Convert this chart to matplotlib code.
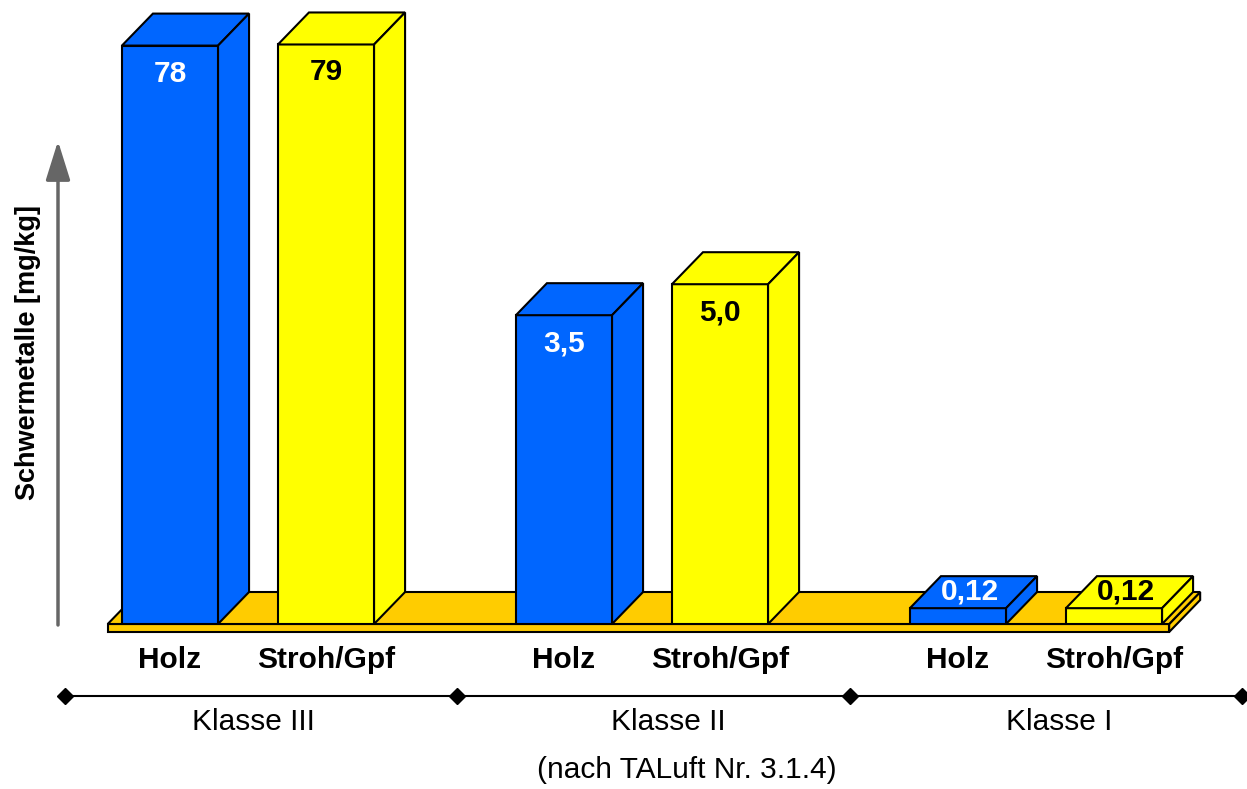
import numpy as np
import matplotlib
matplotlib.use("Agg")
import matplotlib.pyplot as plt
from matplotlib.patches import Polygon
from matplotlib.ticker import NullLocator
from matplotlib.transforms import IdentityTransform

plt.rcParams["font.family"] = ["Liberation Sans", "DejaVu Sans"]

# ---- data -------------------------------------------------------------
klassen = ["Klasse III", "Klasse II", "Klasse I"]
brennstoffe = ["Holz", "Stroh/Gpf"]
holz = [78, 3.5, 0.12]
stroh = [79, 5.0, 0.12]
y_label = "Schwermetalle [mg/kg]"
quelle = "(nach TALuft Nr. 3.1.4)"

# ---- styling ----------------------------------------------------------
BLUE = "#0066FF"
YELLOW = "#FFFF00"
FLOOR = "#FFCC00"
ARROW = "#666666"
DX, DY = 31, 32          # depth of the pseudo-3D faces (pixels)
FLOOR_T = 8              # thickness of the floor slab (pixels)
LW = 1.5
FS = 21.5

W, H = 1247, 789
BASE_PX = 624            # pixel row of the floor surface
PX_PER_DECADE = 200
GROUP_PX = 394
Y0 = 0.1

fig = plt.figure(figsize=(W / 100, H / 100), dpi=100)
ax = fig.add_axes([0, (H - BASE_PX) / H, 1, BASE_PX / H])
ax.set_yscale("log")
ax.set_ylim(Y0, Y0 * 10 ** (BASE_PX / PX_PER_DECADE))
ax.set_xlim(-248 / GROUP_PX, (W - 248) / GROUP_PX)
ax.patch.set_visible(False)
for s in ax.spines.values():
    s.set_visible(False)
ax.yaxis.set_major_locator(NullLocator())
ax.yaxis.set_minor_locator(NullLocator())
ax.set_zorder(2)

groups = np.arange(len(klassen))
offset = 0.198
width = 0.244
x_holz = groups - offset
x_stroh = groups + offset


def px(x, y):
    return ax.transData.transform((x, y))


def face(points, color, z, clip=True):
    p = Polygon(np.array(points), closed=True, transform=IdentityTransform(),
                facecolor=color, edgecolor="black", lw=LW, joinstyle="miter",
                zorder=z, clip_on=clip)
    ax.add_patch(p)


def fmt(v):
    if v >= 10:
        s = f"{v:.0f}"
    elif v >= 1:
        s = f"{v:.1f}"
    else:
        s = f"{v:.2f}"
    return s.replace(".", ",")


# floor slab
d = np.array([DX, DY])
t = np.array([0, FLOOR_T])
fl = px(x_holz[0] - width / 2 - 0.036, Y0)
fr = px(x_stroh[-1] + width / 2 + 0.018, Y0)
face([fl - t, fr - t, fr, fl], FLOOR, 1, clip=False)
face([fr - t, fr + d - t, fr + d, fr], FLOOR, 1, clip=False)
face([fl, fr, fr + d, fl + d], FLOOR, 1, clip=False)


def draw_bars(xs, values, color, text_color):
    ax.bar(xs, [v - Y0 for v in values], bottom=Y0, width=width,
           color=color, edgecolor="black", lw=LW, zorder=3)
    for x, v in zip(xs, values):
        tl = px(x - width / 2, v)
        tr = px(x + width / 2, v)
        br = px(x + width / 2, Y0)
        face([tl, tr, tr + d, tl + d], color, 3)
        face([tr, br, br + d, tr + d], color, 3)
        h = PX_PER_DECADE * np.log10(v / Y0)
        if h > 60:
            off = (0, -36 * 0.72)
        else:
            off = (12 * 0.72, 9 * 0.72)
        ax.annotate(fmt(v), xy=(x, v), xytext=off, textcoords="offset points",
                    ha="center", va="baseline", fontsize=FS,
                    fontweight="bold", color=text_color, zorder=5)


draw_bars(x_holz, holz, BLUE, "white")
draw_bars(x_stroh, stroh, YELLOW, "black")

# category labels under the bars
ticks = np.ravel(np.column_stack([x_holz, x_stroh]))
ax.set_xticks(ticks, brennstoffe * len(klassen), fontsize=FS,
              fontweight="bold")
ax.tick_params(axis="x", length=0, pad=16)

# ---- overlay in pixel rows for axis arrow and class scale -------------
ann = fig.add_axes([0, 0, 1, 1])
ann.set_xlim(ax.get_xlim())
ann.set_ylim(H, 0)
ann.axis("off")
ann.set_zorder(1)

arrow_x = -190 / GROUP_PX
ann.annotate("", xy=(arrow_x, 141), xytext=(arrow_x, 625),
             arrowprops=dict(arrowstyle="-|>,head_length=24,head_width=7.5",
                             mutation_scale=1, color=ARROW, lw=2.5,
                             shrinkA=0, shrinkB=0))
ann.text(-220 / GROUP_PX, 352, y_label, rotation=90, ha="center",
         va="center", fontsize=19.5, fontweight="bold")

bounds = np.arange(len(klassen) + 1) * 0.996 - 0.465
ann.plot([bounds[0], bounds[-1]], [696, 696], color="black", lw=1.5,
         solid_capstyle="butt")
ann.plot(bounds, [696] * len(bounds), ls="none", marker="D", ms=8,
         color="black")
label_shift = [0.013, 0.067, 0.058]
for g, k, sh in zip(groups, klassen, label_shift):
    ann.text(g + sh, 730, k, ha="center", va="baseline", fontsize=FS)

ann.text(1.115, 778, quelle, ha="center", va="baseline", fontsize=FS)

fig.savefig("out.png", dpi=100)
